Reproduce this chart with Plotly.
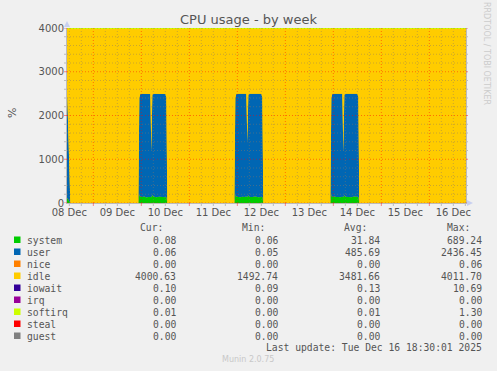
import plotly.graph_objects as go
import pandas as pd

# ---------------- data ----------------
times = [
    "2025-12-08 10:30", "2025-12-08 11:00", "2025-12-08 12:30",
    # block 1
    "2025-12-09 22:30", "2025-12-09 23:00", "2025-12-09 23:30", "2025-12-10 00:30", "2025-12-10 01:30",
    "2025-12-10 02:30", "2025-12-10 03:30", "2025-12-10 04:30", "2025-12-10 05:00", "2025-12-10 05:30",
    "2025-12-10 06:00", "2025-12-10 07:30", "2025-12-10 09:00", "2025-12-10 10:30", "2025-12-10 12:00",
    "2025-12-10 12:30", "2025-12-10 13:00",
    # block 2
    "2025-12-11 22:30", "2025-12-11 23:00", "2025-12-11 23:30", "2025-12-12 00:30", "2025-12-12 01:30",
    "2025-12-12 02:30", "2025-12-12 03:30", "2025-12-12 04:30", "2025-12-12 05:00", "2025-12-12 05:30",
    "2025-12-12 06:00", "2025-12-12 07:30", "2025-12-12 09:00", "2025-12-12 10:30", "2025-12-12 12:00",
    "2025-12-12 12:30", "2025-12-12 13:00",
    # block 3
    "2025-12-13 22:30", "2025-12-13 23:00", "2025-12-13 23:30", "2025-12-14 00:30", "2025-12-14 01:30",
    "2025-12-14 02:30", "2025-12-14 03:30", "2025-12-14 04:30", "2025-12-14 05:00", "2025-12-14 05:30",
    "2025-12-14 06:00", "2025-12-14 07:30", "2025-12-14 09:00", "2025-12-14 10:30", "2025-12-14 12:00",
    "2025-12-14 12:30", "2025-12-14 13:00",
    "2025-12-16 18:30",
]

system = [
    120, 110, 0.06,
    0.06, 190, 145, 135, 150, 125, 140, 135, 130, 185, 150, 130, 145, 135, 140, 130, 0.06,
    0.06, 180, 150, 140, 130, 145, 135, 150, 134, 175, 140, 135, 150, 130, 145, 135, 0.06,
    0.06, 185, 140, 150, 135, 140, 130, 145, 130, 180, 145, 140, 130, 150, 135, 140, 0.06,
    0.08,
]
user = [
    2350, 2300, 0.05,
    0.05, 2210, 2350, 2360, 2345, 2365, 2350, 2355, 1060, 2290, 2350, 2365, 2345, 2360, 2350, 2280, 0.05,
    0.05, 2220, 2345, 2355, 2365, 2350, 2360, 2345, 1260, 2300, 2355, 2360, 2345, 2365, 2350, 2270, 0.05,
    0.05, 2215, 2355, 2345, 2360, 2355, 2365, 2350, 1040, 2295, 2350, 2355, 2365, 2345, 2360, 2275, 0.05,
    0.06,
]
idle = [
    1530, 1590, 3999.9,
    3999.9, 1600, 1505, 1505, 1505, 1510, 1510, 1510, 2810, 1525, 1500, 1505, 1510, 1505, 1510, 1590, 3999.9,
    3999.9, 1600, 1505, 1505, 1505, 1505, 1505, 1505, 2606, 1525, 1505, 1505, 1505, 1505, 1505, 1595, 3999.9,
    3999.9, 1600, 1505, 1505, 1505, 1505, 1505, 1505, 2830, 1525, 1505, 1505, 1505, 1505, 1505, 1585, 3999.9,
    3999.9,
]
iowait = [0.1] * len(times)
softirq = [0.01] * len(times)

legend_names = ["system", "user", "nice", "idle", "iowait", "irq", "softirq", "steal", "guest"]
legend_colors = ["#00CC00", "#0066B3", "#FF8000", "#FFCC00", "#330099", "#990099", "#CCFF00", "#FF0000", "#808080"]
cur_vals = ["0.08", "0.06", "0.00", "4000.63", "0.10", "0.00", "0.01", "0.00", "0.00"]
min_vals = ["0.06", "0.05", "0.00", "1492.74", "0.09", "0.00", "0.00", "0.00", "0.00"]
avg_vals = ["31.84", "485.69", "0.00", "3481.66", "0.13", "0.00", "0.01", "0.00", "0.00"]
max_vals = ["689.24", "2436.45", "0.06", "4011.70", "10.69", "0.00", "1.30", "0.00", "0.00"]

y_ticks = [0, 1000, 2000, 3000, 4000]
x_label_days = ["2025-12-08", "2025-12-09", "2025-12-10", "2025-12-11", "2025-12-12",
                "2025-12-13", "2025-12-14", "2025-12-15", "2025-12-16"]
x_range = ["2025-12-08 10:50", "2025-12-16 18:20"]

# ---------------- layout geometry (pixels) ----------------
W, H = 497, 371
PL, PR, PT, PB = 67, 466, 28, 203


def px(x):
    return (x - PL) / (PR - PL)


def py(y):
    return (PB - y) / (PB - PT)


fig = go.Figure()
series = [("system", system, "#00CC00"), ("user", user, "#0066B3"), ("idle", idle, "#FFCC00"),
          ("iowait", iowait, "#330099"), ("softirq", softirq, "#CCFF00")]
for name, vals, col in series:
    lw = 2 if name == "softirq" else 0
    fig.add_trace(go.Scatter(x=times, y=vals, name=name, stackgroup="cpu", mode="lines",
                             line=dict(width=lw, color=col), fillcolor=col, hoverinfo="skip"))

# ---------------- grid (drawn above data like rrdtool) ----------------
shapes = []
minor_col = "rgba(140,120,100,0.45)"
major_col = "rgba(255,0,0,0.45)"
for v in range(0, 4001, 200):
    col = major_col if v % 1000 == 0 else minor_col
    shapes.append(dict(type="line", xref="paper", yref="y", x0=0, x1=1, y0=v, y1=v,
                       line=dict(color=col, width=1, dash="1px,2px"), layer="above"))
    shapes.append(dict(type="line", xref="paper", yref="y", x0=px(PL - 3), x1=0, y0=v, y1=v,
                       line=dict(color=col if v % 1000 == 0 else "#BBBBBB", width=1), layer="above"))
    shapes.append(dict(type="line", xref="paper", yref="y", x0=1, x1=px(PR + 2), y0=v, y1=v,
                       line=dict(color=col if v % 1000 == 0 else "#BBBBBB", width=1), layer="above"))
for t in pd.date_range("2025-12-08 12:00", "2025-12-16 18:00", freq="6h"):
    col = major_col if t.hour == 0 else minor_col
    shapes.append(dict(type="line", xref="x", yref="paper", x0=t, x1=t, y0=0, y1=1,
                       line=dict(color=col, width=1, dash="1px,2px"), layer="above"))
    shapes.append(dict(type="line", xref="x", yref="paper", x0=t, x1=t, y0=py(PB + 3), y1=0,
                       line=dict(color=col if t.hour == 0 else "#BBBBBB", width=1), layer="above"))

# axis arrows
arrow_col = "#C8D0F0"
shapes.append(dict(type="path", xref="paper", yref="paper", layer="above",
                   path=f"M {px(64)} {py(27)} L {px(70)} {py(27)} L {px(67)} {py(21)} Z",
                   fillcolor=arrow_col, line=dict(width=0)))
shapes.append(dict(type="path", xref="paper", yref="paper", layer="above",
                   path=f"M {px(467)} {py(200)} L {px(467)} {py(206)} L {px(473)} {py(203)} Z",
                   fillcolor=arrow_col, line=dict(width=0)))

annotations = []
txt_col = "#555555"
mono = "DejaVu Sans Mono"

# title, axis label, side text
annotations.append(dict(text="CPU usage - by week", x=px(248), y=py(19), xref="paper", yref="paper",
                        showarrow=False, xanchor="center", yanchor="middle",
                        font=dict(family="DejaVu Sans", size=13, color="#555555")))
annotations.append(dict(text="%", x=px(12), y=py(113), xref="paper", yref="paper", textangle=-90,
                        showarrow=False, xanchor="center", yanchor="middle",
                        font=dict(family="DejaVu Sans", size=11, color="#555555")))
annotations.append(dict(text="RRDTOOL / TOBI OETIKER", x=px(487), y=py(53), xref="paper", yref="paper",
                        textangle=90, showarrow=False, xanchor="center", yanchor="middle",
                        font=dict(family="DejaVu Sans", size=8, color="#CCCCCC")))

# legend table
for hdr, xr in zip(["Cur:", "Min:", "Avg:", "Max:"], [163.5, 266, 368, 470.5]):
    annotations.append(dict(text=hdr, x=px(xr), y=py(227), xref="paper", yref="paper", showarrow=False,
                            xanchor="right", yanchor="middle", borderpad=0,
                            font=dict(family=mono, size=9.7, color=txt_col)))
for i, name in enumerate(legend_names):
    yy = 240 + 12 * i
    shapes.append(dict(type="rect", xref="paper", yref="paper", x0=px(14), x1=px(20.5),
                       y0=py(yy + 3), y1=py(yy - 3.5), fillcolor=legend_colors[i], line=dict(width=0),
                       layer="above"))
    annotations.append(dict(text=name, x=px(26), y=py(yy), xref="paper", yref="paper", showarrow=False,
                            xanchor="left", yanchor="middle", borderpad=0,
                            font=dict(family=mono, size=9.7, color=txt_col)))
    for vals, xr in zip([cur_vals, min_vals, avg_vals, max_vals], [176.5, 279, 381, 483]):
        annotations.append(dict(text=vals[i], x=px(xr), y=py(yy), xref="paper", yref="paper",
                                showarrow=False, xanchor="right", yanchor="middle", borderpad=0,
                                font=dict(family=mono, size=9.7, color=txt_col)))
annotations.append(dict(text="Last update: Tue Dec 16 18:30:01 2025", x=px(483), y=py(347), xref="paper",
                        yref="paper", showarrow=False, xanchor="right", yanchor="middle", borderpad=0,
                        font=dict(family=mono, size=9.7, color=txt_col)))
annotations.append(dict(text="Munin 2.0.75", x=px(248), y=py(359), xref="paper", yref="paper",
                        showarrow=False, xanchor="center", yanchor="middle",
                        font=dict(family="DejaVu Sans", size=8, color="#C8C8C8")))

fig.update_layout(
    width=W, height=H, autosize=False,
    margin=dict(l=PL, r=W - PR, t=PT, b=H - PB),
    paper_bgcolor="#F0F0F0", plot_bgcolor="#FFCC00",
    showlegend=False,
    font=dict(family="DejaVu Sans", size=10, color="#555555"),
    shapes=shapes, annotations=annotations,
    xaxis=dict(type="date", range=x_range,
               tickvals=[d + " 12:00" for d in x_label_days],
               ticktext=[pd.Timestamp(d).strftime("%d %b") for d in x_label_days],
               showgrid=False, zeroline=False, ticks="", ticklen=0,
               showline=True, linecolor="#BBBBBB", linewidth=1,
               tickfont=dict(size=10, color="#555555")),
    yaxis=dict(range=[0, 4000], tickvals=y_ticks, showgrid=False, zeroline=False, ticks="",
               ticklen=0, showline=True, linecolor="#BBBBBB", linewidth=1, mirror=True,
               tickfont=dict(size=10, color="#555555")),
)

fig.write_html("out.html", config={"displayModeBar": False},
               post_script="document.body.style.margin='0';")
